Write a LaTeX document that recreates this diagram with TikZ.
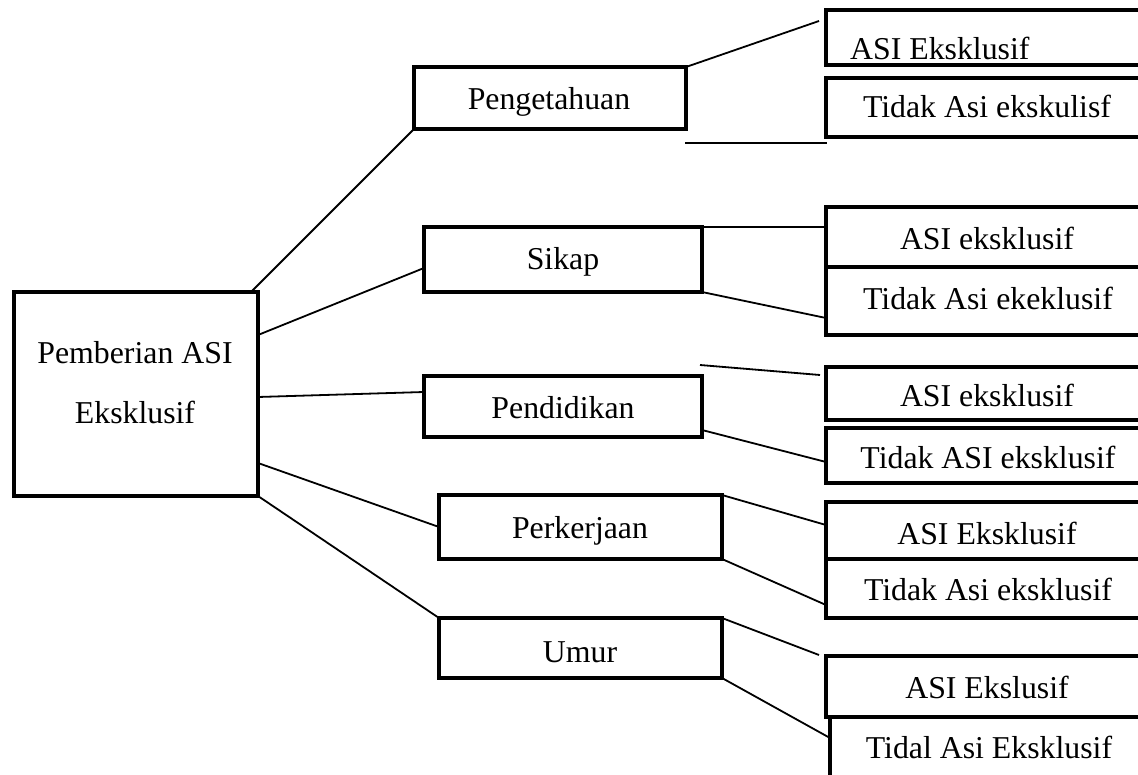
\documentclass[tikz,border=0pt]{standalone}
\usepackage{fontspec}
\setmainfont{Liberation Serif}
\tikzset{
  box/.style={draw, line width=4.8pt, inner sep=0pt, outer sep=0pt, line join=miter},
  lbl/.style={anchor=base, inner sep=0pt, font=\fontsize{31.8}{38}\selectfont},
  conn/.style={line width=1.8pt},
}
\begin{document}
\begin{tikzpicture}[x=1pt, y=-1pt]
\useasboundingbox (0,0) rectangle (1138,775);
\clip (0,0) rectangle (1138,775);
\fill[white] (0,0) rectangle (1138,775);

% main box
\node[box, minimum width=244pt, minimum height=204pt] (main) at (136,394) {};
\node[lbl] (mainA) at (135,364) {Pemberian ASI};
\node[lbl] (mainB) at (135,424) {Eksklusif};

% middle boxes
\node[box, minimum width=272pt, minimum height=62pt] (peng) at (550,98) {};
\node[lbl] (pengT) at (549,110) {Pengetahuan};
\node[box, minimum width=278pt, minimum height=65pt] (sikap) at (563,259.5) {};
\node[lbl] (sikapT) at (563,270) {Sikap};
\node[box, minimum width=278pt, minimum height=61pt] (pend) at (563,406.5) {};
\node[lbl] (pendT) at (563,418) {Pendidikan};
\node[box, minimum width=283pt, minimum height=64pt] (perk) at (580.5,527) {};
\node[lbl] (perkT) at (580,538) {Perkerjaan};
\node[box, minimum width=283pt, minimum height=60pt] (umur) at (580.5,648) {};
\node[lbl] (umurT) at (580,662) {Umur};

% right boxes
\node[box, minimum width=324pt, minimum height=55pt] (r1) at (988,37.5) {};
\node[lbl, anchor=base west] (r1T) at (850,60) {ASI Eksklusif};
\node[box, minimum width=324pt, minimum height=59pt] (r2) at (988,107.5) {};
\node[lbl] (r2T) at (987,118) {Tidak Asi ekskulisf};
\node[box, minimum width=324pt, minimum height=60pt] (r3) at (988,237) {};
\node[lbl] (r3T) at (987,250) {ASI eksklusif};
\node[box, minimum width=324pt, minimum height=68pt] (r4) at (988,301) {};
\node[lbl] (r4T) at (988,310) {Tidak Asi ekeklusif};
\node[box, minimum width=324pt, minimum height=53pt] (r5) at (988,393.5) {};
\node[lbl] (r5T) at (987,407) {ASI eksklusif};
\node[box, minimum width=324pt, minimum height=55pt] (r6) at (988,455.5) {};
\node[lbl] (r6T) at (988,468) {Tidak ASI eksklusif};
\node[box, minimum width=324pt, minimum height=57pt] (r7) at (988,530.5) {};
\node[lbl] (r7T) at (987,544) {ASI Eksklusif};
\node[box, minimum width=324pt, minimum height=59pt] (r8) at (988,588.5) {};
\node[lbl] (r8T) at (988,600) {Tidak Asi eksklusif};
\node[box, minimum width=324pt, minimum height=61pt] (r9) at (988,686.5) {};
\node[lbl] (r9T) at (987,698) {ASI Ekslusif};
\node[box, minimum width=320pt, minimum height=83pt] (r10) at (990,758.5) {};
\node[lbl] (r10T) at (989,758) {Tidal Asi Eksklusif};

% free ends
\coordinate (c1) at (819,21);
\coordinate (c2) at (685,143);
\coordinate (c3) at (827,143);
\coordinate (c4) at (700,365);
\coordinate (c5) at (820,375);
\coordinate (c6) at (819,655);

% connectors from main box
\draw[conn] ([xshift=-7pt]main.north east) -- (peng.south west);
\draw[conn] ([yshift=-43pt]main.north east) -- ([yshift=-8.5pt]sikap.west);
\draw[conn] ([yshift=-3pt]main.east) -- ([yshift=14.5pt]pend.west);
\draw[conn] ([yshift=33pt]main.south east) -- (perk.west);
\draw[conn] (main.south east) -- (umur.north west);

% connectors to right boxes
\draw[conn] (peng.north east) -- (c1);
\draw[conn] (c2) -- (c3);
\draw[conn] (sikap.north east) -- ([yshift=10pt]r3.west);
\draw[conn] (sikap.south east) -- ([yshift=-17pt]r4.west);
\draw[conn] (c4) -- (c5);
\draw[conn] ([yshift=7pt]pend.south east) -- ([yshift=-6.5pt]r6.west);
\draw[conn] (perk.north east) -- ([yshift=5.5pt]r7.west);
\draw[conn] (perk.south east) -- ([yshift=-16.5pt]r8.west);
\draw[conn] (umur.north east) -- (c6);
\draw[conn] (umur.south east) -- ([yshift=20.5pt]r10.west);
\end{tikzpicture}
\end{document}
